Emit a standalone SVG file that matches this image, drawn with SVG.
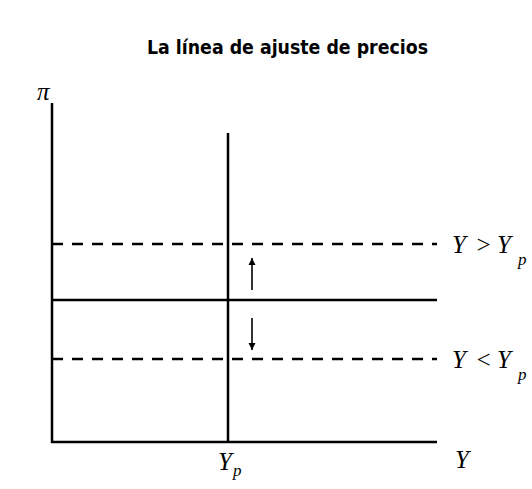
<svg xmlns="http://www.w3.org/2000/svg" width="532" height="489" viewBox="0 0 532 489">
<style>
.ln{stroke:#000;stroke-width:2.5;fill:none}
.dash{stroke:#000;stroke-width:2.5;fill:none;stroke-dasharray:11 9}
.arr{stroke:#000;stroke-width:1.6;fill:none}
.m{font-family:"Liberation Serif",serif;font-style:italic;font-size:25px;fill:#000}
.s{font-family:"Liberation Serif",serif;font-style:italic;font-size:17px;fill:#000}
.t{font-family:"DejaVu Sans",Verdana,sans-serif;font-weight:bold;font-size:19.5px;fill:#000}
</style>
<defs>
<marker id="ah" viewBox="0 0 10 10" refX="10" refY="5" markerWidth="4.5" markerHeight="4.5" orient="auto" markerUnits="strokeWidth">
<path d="M0,0 L10,5 L0,10 z" fill="#000"/>
</marker>
</defs>
<text class="t" x="147" y="54" textLength="281" lengthAdjust="spacingAndGlyphs">La línea de ajuste de precios</text>
<g id="axes">
<path class="ln" d="M52,103 V442 H437"/>
<text class="m" x="37" y="100" font-size="28">π</text>
<text class="m" x="455" y="468">Y</text>
</g>
<g id="connectors">
<path class="ln" d="M228,133 V442"/>
<path class="ln" d="M52,300 H437"/>
<path class="dash" d="M52,244 H437"/>
<path class="dash" d="M52,359 H437"/>
<path class="arr" d="M252,290 V258" marker-end="url(#ah)"/>
<path class="arr" d="M252,318 V350" marker-end="url(#ah)"/>
</g>
<g id="label-Yp">
<text class="m" x="218" y="470">Y</text>
<text class="s" x="233" y="476">p</text>
</g>
<g id="label-upper">
<text class="m" x="452" y="253">Y</text>
<text class="m" x="475" y="253" font-style="normal">&gt;</text>
<text class="m" x="497" y="253">Y</text>
<text class="s" x="518" y="265">p</text>
</g>
<g id="label-lower">
<text class="m" x="452" y="368">Y</text>
<text class="m" x="475" y="368" font-style="normal">&lt;</text>
<text class="m" x="497" y="368">Y</text>
<text class="s" x="518" y="380">p</text>
</g>
</svg>
